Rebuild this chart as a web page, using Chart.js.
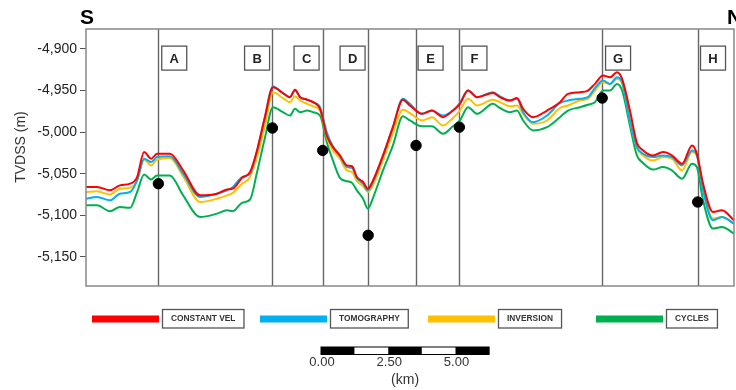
<!DOCTYPE html>
<html>
<head>
<meta charset="utf-8">
<script src="https://cdn.jsdelivr.net/npm/chart.js@4.4.1/dist/chart.umd.min.js"></script>
<style>
    html, body { margin: 0; padding: 0; background: #fff; }
    #wrap { width: 736px; height: 390px; }
</style>
</head>
<body>
<div id="wrap"><canvas id="myChart"></canvas></div>
<script>
// distance along the section (km), shared by all horizons
const distanceKm = [0, 0.41, 0.89, 1.26, 1.64, 1.90, 2.16, 2.42, 2.64, 3.12,
    3.61, 4.24, 4.87, 5.24, 5.46, 5.80, 6.10, 6.36, 6.65, 6.95,
    7.32, 7.58, 7.77, 7.96, 8.22, 8.44, 8.70, 8.96, 9.18, 9.44,
    9.70, 9.89, 10.07, 10.30, 10.48, 10.67, 11.04, 11.41, 11.78, 12.04,
    12.49, 12.86, 13.27, 13.64, 13.90, 14.20, 14.54, 15.13, 15.39, 15.76,
    16.02, 16.25, 16.62, 17.14, 17.62, 17.92, 18.36, 18.66, 18.92, 19.22,
    19.48, 19.74, 19.93, 20.22, 20.48, 20.71, 21.08, 21.45, 21.78, 22.16,
    22.53, 22.71, 22.94, 23.31, 23.64, 24.09];

const constantVel = [-5066, -5066, -5070, -5064, -5062, -5054, -5024, -5032, -5026, -5026,
    -5046, -5076, -5074, -5069, -5068, -5055, -5048, -5022, -4982, -4946,
    -4953, -4958, -4949, -4958, -4961, -4964, -4972, -5005, -5018, -5028,
    -5040, -5041, -5054, -5060, -5068, -5058, -5028, -4994, -4961, -4968,
    -4978, -4974, -4982, -4974, -4966, -4950, -4958, -4953, -4958, -4962,
    -4959, -4972, -4982, -4974, -4964, -4954, -4952, -4950, -4942, -4932,
    -4934, -4928, -4936, -4974, -5013, -5022, -5028, -5024, -5028, -5038,
    -5016, -5026, -5062, -5096, -5094, -5106];

const tomography = [-5080, -5078, -5082, -5074, -5072, -5058, -5032, -5036, -5030, -5029,
    -5050, -5078, -5074, -5070, -5066, -5054, -5050, -5022, -4982, -4945,
    -4953, -4958, -4950, -4958, -4961, -4964, -4970, -5001, -5017, -5029,
    -5042, -5043, -5055, -5062, -5070, -5060, -5029, -4994, -4960, -4966,
    -4978, -4974, -4980, -4974, -4965, -4950, -4958, -4952, -4957, -4962,
    -4960, -4976, -4988, -4980, -4965, -4962, -4960, -4958, -4947, -4938,
    -4942, -4934, -4940, -4986, -5018, -5026, -5030, -5028, -5030, -5040,
    -5022, -5028, -5070, -5106, -5102, -5110];

const inversion = [-5072, -5071, -5075, -5068, -5067, -5058, -5033, -5040, -5033, -5031,
    -5053, -5084, -5080, -5076, -5073, -5062, -5054, -5030, -4992, -4952,
    -4959, -4964, -4957, -4962, -4966, -4969, -4974, -5007, -5022, -5032,
    -5046, -5048, -5059, -5065, -5072, -5064, -5034, -5001, -4973, -4977,
    -4986, -4982, -4992, -4983, -4974, -4960, -4968, -4961, -4964, -4969,
    -4968, -4978, -4990, -4986, -4971, -4968, -4962, -4960, -4950, -4940,
    -4942, -4936, -4941, -4986, -5019, -5028, -5034, -5030, -5032, -5046,
    -5024, -5028, -5067, -5104, -5102, -5110];

const cycles = [-5088, -5088, -5095, -5090, -5091, -5072, -5051, -5057, -5052, -5052,
    -5076, -5102, -5098, -5094, -5095, -5085, -5081, -5048, -5007, -4970,
    -4976, -4980, -4972, -4976, -4974, -4976, -4980, -5013, -5034, -5055,
    -5059, -5061, -5070, -5080, -5092, -5079, -5046, -5016, -4981, -4986,
    -4993, -4993, -5002, -4993, -4986, -4970, -4978, -4966, -4971, -4976,
    -4974, -4986, -4998, -4994, -4982, -4974, -4970, -4967, -4964, -4950,
    -4950, -4942, -4950, -4992, -5028, -5037, -5045, -5042, -5046, -5056,
    -5038, -5042, -5082, -5116, -5114, -5122];

const seriesNames = ['CONSTANT VEL', 'TOMOGRAPHY', 'INVERSION', 'CYCLES'];
const seriesColors = ['#ff0000', '#00b0f0', '#ffc000', '#00b050'];

// wells: position, well top depth, label and where the label box sits
const wellNames = ['A', 'B', 'C', 'D', 'E', 'F', 'G', 'H'];
const wellKm = [2.69, 6.93, 8.80, 10.49, 12.27, 13.88, 19.19, 22.74];
const wellTop = [-5062, -4995, -5022, -5124, -5016, -4994, -4959, -5084];
const labelKm = [3.28, 6.36, 8.20, 9.91, 12.81, 14.44, 19.78, 23.31];
const labelDepth = -4911;

const yTicks = [-4900, -4950, -5000, -5050, -5100, -5150];
const scaleBarKm = [0, 2.5, 5];
const scaleBarStep = 1.25;

function xy(values) {
    return values.map((v, i) => ({ x: distanceKm[i], y: v }));
}

const decor = {
    id: 'decor',
    beforeDatasetsDraw(chart) {
        const { ctx, chartArea, scales } = chart;
        ctx.save();
        ctx.strokeStyle = '#666';
        ctx.lineWidth = 1.4;
        wellKm.forEach(k => {
            const x = Math.round(scales.x.getPixelForValue(k)) + 0.5;
            ctx.beginPath();
            ctx.moveTo(x, chartArea.top);
            ctx.lineTo(x, chartArea.bottom);
            ctx.stroke();
        });
        ctx.restore();
    },
    afterDatasetsDraw(chart) {
        const { ctx, chartArea, scales } = chart;
        const xs = scales.x, ys = scales.y;
        ctx.save();

        // frame
        ctx.strokeStyle = '#888';
        ctx.lineWidth = 1.5;
        ctx.strokeRect(chartArea.left, chartArea.top,
            chartArea.right - chartArea.left, chartArea.bottom - chartArea.top);

        // well label boxes
        ctx.font = 'bold 13px "Liberation Sans", Arial, sans-serif';
        ctx.textAlign = 'center';
        ctx.textBaseline = 'middle';
        wellNames.forEach((name, i) => {
            const cx = xs.getPixelForValue(labelKm[i]);
            const cy = ys.getPixelForValue(labelDepth);
            ctx.fillStyle = '#fff';
            ctx.fillRect(cx - 12.5, cy - 12, 25, 24);
            ctx.strokeStyle = '#555';
            ctx.lineWidth = 1.3;
            ctx.strokeRect(cx - 12.5, cy - 12, 25, 24);
            ctx.fillStyle = '#222';
            ctx.fillText(name, cx, cy + 1);
        });

        // S / N
        ctx.fillStyle = '#000';
        ctx.font = 'bold 21px "Liberation Sans", Arial, sans-serif';
        ctx.textBaseline = 'alphabetic';
        ctx.textAlign = 'center';
        ctx.fillText('S', 87, 24);
        ctx.textAlign = 'left';
        ctx.fillText('N', 727, 24);

        // y title
        ctx.save();
        ctx.translate(21, 147);
        ctx.rotate(-Math.PI / 2);
        ctx.textAlign = 'center';
        ctx.textBaseline = 'middle';
        ctx.fillStyle = '#333';
        ctx.font = '14px "Liberation Sans", Arial, sans-serif';
        ctx.fillText('TVDSS (m)', 0, 0);
        ctx.restore();

        // legend (text slightly condensed, as in the original)
        const squeeze = 0.93;
        ctx.font = 'bold 9px "Liberation Sans", Arial, sans-serif';
        seriesNames.forEach((name, i) => {
            const x0 = 92 + i * 168;
            ctx.fillStyle = seriesColors[i];
            ctx.fillRect(x0, 315.5, 67, 7);
            const bx = x0 + 70.5;
            const tw = ctx.measureText(name).width * squeeze;
            const bw = tw + 17;
            ctx.fillStyle = '#fff';
            ctx.fillRect(bx, 309.5, bw, 18.5);
            ctx.strokeStyle = '#555';
            ctx.lineWidth = 1.3;
            ctx.strokeRect(bx, 309.5, bw, 18.5);
            ctx.save();
            ctx.translate(bx + bw / 2, 319);
            ctx.scale(squeeze, 1);
            ctx.fillStyle = '#333';
            ctx.textAlign = 'center';
            ctx.textBaseline = 'middle';
            ctx.fillText(name, 0, 0);
            ctx.restore();
        });

        // scale bar
        const seg = xs.getPixelForValue(scaleBarStep) - xs.getPixelForValue(0);
        const sx = 321;
        for (let i = 0; i < 5; i++) {
            ctx.fillStyle = i % 2 === 0 ? '#000' : '#fff';
            ctx.fillRect(sx + i * seg, 347, seg, 7.5);
        }
        ctx.strokeStyle = '#000';
        ctx.lineWidth = 1;
        ctx.strokeRect(sx, 347, seg * 5, 7.5);
        ctx.fillStyle = '#333';
        ctx.font = '13px "Liberation Sans", Arial, sans-serif';
        ctx.textAlign = 'center';
        ctx.textBaseline = 'middle';
        scaleBarKm.forEach(k => {
            ctx.fillText(k.toFixed(2), sx + (k / scaleBarStep) * seg + 1, 362);
        });
        ctx.font = '14px "Liberation Sans", Arial, sans-serif';
        ctx.fillText('(km)', sx + seg * 2.5, 380);

        ctx.restore();
    }
};

document.addEventListener('DOMContentLoaded', function () {
    const ctx = document.getElementById('myChart');
    const lines = [constantVel, tomography, inversion, cycles].map((vals, i) => ({
        type: 'line',
        label: seriesNames[i],
        data: xy(vals),
        borderColor: seriesColors[i],
        borderWidth: 2,
        pointRadius: 0,
        cubicInterpolationMode: 'monotone',
        fill: false,
        order: i + 1
    }));
    new Chart(ctx, {
        type: 'scatter',
        data: {
            datasets: [{
                label: 'wells',
                data: wellKm.map((k, i) => ({ x: k, y: wellTop[i] })),
                backgroundColor: '#000',
                borderColor: '#000',
                pointRadius: 5.2,
                order: 0
            }, ...lines]
        },
        options: {
            responsive: true,
            maintainAspectRatio: false,
            animation: false,
            layout: {
                autoPadding: false,
                padding: { top: 29, right: 2, bottom: 104, left: 0 }
            },
            plugins: {
                legend: { display: false },
                tooltip: { enabled: false }
            },
            scales: {
                x: {
                    type: 'linear',
                    min: 0,
                    max: 24.09,
                    display: false
                },
                y: {
                    min: -5185,
                    max: -4876,
                    afterFit(scale) { scale.width = 86; },
                    afterBuildTicks(scale) {
                        scale.ticks = yTicks.map(v => ({ value: v }));
                    },
                    ticks: {
                        color: '#222',
                        padding: 3,
                        font: { family: '"Liberation Sans", Arial, sans-serif', size: 14 },
                        callback: v => v.toLocaleString('en-US')
                    },
                    grid: {
                        drawOnChartArea: false,
                        drawTicks: true,
                        tickLength: 6,
                        color: '#555'
                    },
                    border: { display: false }
                }
            }
        },
        plugins: [decor]
    });
});
</script>
</body>
</html>
